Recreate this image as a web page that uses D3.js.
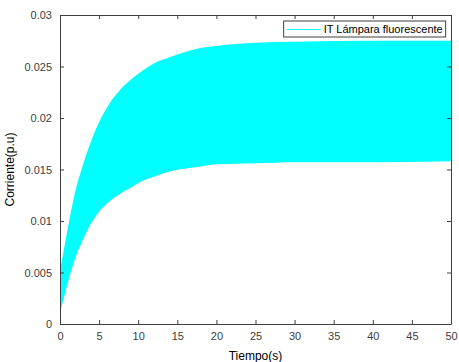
<!DOCTYPE html>
<meta charset="utf-8">
<style>
body { margin: 0; background: #fff; }
text { font-family: "Liberation Sans", Arial, sans-serif; }
</style>
<body>
<script src="https://d3js.org/d3.v7.min.js"></script>
<script>

// envelope of the (very dense) oscillating current
var tiempo   = [0, 1, 2, 3, 4, 5, 6, 7, 8, 9, 10, 12, 14, 16, 18, 20, 25, 30, 40, 50];
var superior = [0.0051, 0.0093, 0.0130, 0.0156, 0.0178, 0.0196, 0.0210, 0.0221, 0.0230, 0.0237, 0.0243,
                0.0253, 0.0259, 0.0264, 0.0268, 0.0270, 0.0273, 0.0274, 0.0275, 0.0275];
var inferior = [0.0010, 0.0040, 0.0065, 0.0083, 0.0098, 0.0109, 0.0117, 0.0123, 0.0128, 0.0132, 0.0137,
                0.0143, 0.0148, 0.0151, 0.0153, 0.0155, 0.0156, 0.0157, 0.0157, 0.0158];
var xTicks = [0, 5, 10, 15, 20, 25, 30, 35, 40, 45, 50];
var yTicks = [0, 0.005, 0.01, 0.015, 0.02, 0.025, 0.03];
var serieNombre = "IT Lámpara fluorescente";

var margin = {top: 15, right: 8, bottom: 38, left: 60},
    width = 459 - margin.left - margin.right,
    height = 362 - margin.top - margin.bottom;

var x = d3.scaleLinear().domain([0, 50]).range([0, width]);
var y = d3.scaleLinear().domain([0, 0.03]).range([height, 0]);

var svg = d3.select("body").append("svg")
    .attr("width", 459)
    .attr("height", 362)
  .append("g")
    .attr("transform", `translate(${margin.left},${margin.top})`);

var datos = tiempo.map((t, i) => ({t: t, hi: superior[i], lo: inferior[i]}));

// filled band
svg.append("path")
    .datum(datos)
    .attr("fill", "#00ffff")
    .attr("d", d3.area()
      .curve(d3.curveMonotoneX)
      .x(d => x(d.t))
      .y0(d => y(d.lo))
      .y1(d => y(d.hi)));

// axes, matlab style: ticks inward on all four sides
function estilo(g) {
  g.select(".domain").attr("stroke", "#404040").attr("stroke-width", 1);
  g.selectAll(".tick line").attr("stroke", "#404040");
  g.selectAll(".tick text").attr("fill", "#404040").style("font-size", "11px");
}

svg.append("g")
    .attr("transform", `translate(0,${height})`)
    .call(d3.axisBottom(x).tickValues(xTicks).tickSizeInner(-4).tickSizeOuter(0).tickPadding(8).tickFormat(d3.format("d")))
    .call(estilo);

svg.append("g")
    .call(d3.axisTop(x).tickValues(xTicks).tickSizeInner(-4).tickSizeOuter(0).tickFormat(""))
    .call(estilo);

svg.append("g")
    .call(d3.axisLeft(y).tickValues(yTicks).tickSizeInner(-4).tickSizeOuter(0).tickPadding(8).tickFormat(d => d === 0 ? "0" : d3.format("")(+d.toFixed(3))))
    .call(estilo);

svg.append("g")
    .attr("transform", `translate(${width},0)`)
    .call(d3.axisRight(y).tickValues(yTicks).tickSizeInner(-4).tickSizeOuter(0).tickFormat(""))
    .call(estilo);

// axis labels
svg.append("text")
    .attr("x", width / 2)
    .attr("y", height + 36)
    .attr("text-anchor", "middle")
    .attr("fill", "#000")
    .style("font-size", "12px")
    .text("Tiempo(s)");

svg.append("text")
    .attr("transform", `translate(${-46},${height / 2}) rotate(-90)`)
    .attr("text-anchor", "middle")
    .attr("fill", "#000")
    .style("font-size", "12px")
    .text("Corriente(p.u)");

// legend
var leg = svg.append("g").attr("transform", `translate(${x(28.6)},6)`);
leg.append("rect")
    .attr("width", 162)
    .attr("height", 16)
    .attr("fill", "#fff")
    .attr("stroke", "#404040")
    .attr("stroke-width", 1);
leg.append("line")
    .attr("x1", 3).attr("x2", 37)
    .attr("y1", 8.5).attr("y2", 8.5)
    .attr("stroke", "#00ffff")
    .attr("stroke-width", 1.2);
leg.append("text")
    .attr("x", 40)
    .attr("y", 12)
    .attr("fill", "#000")
    .style("font-size", "11px")
    .text(serieNombre);

</script>
</body>
</html>
